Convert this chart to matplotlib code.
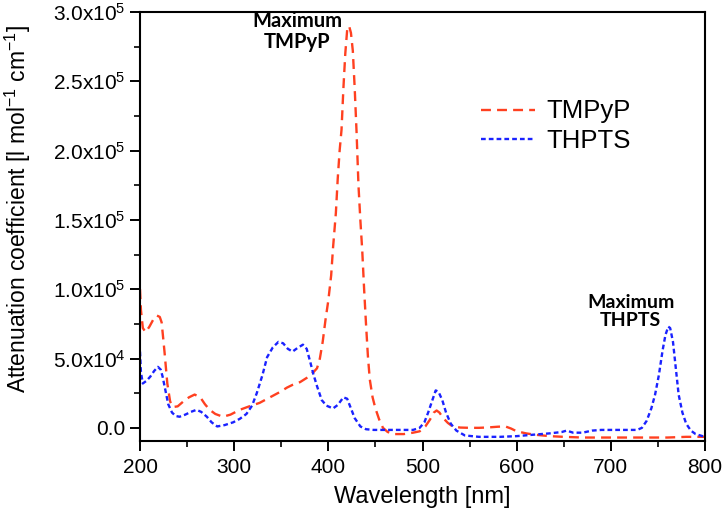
import matplotlib
matplotlib.use("Agg")
import matplotlib.pyplot as plt
from matplotlib.ticker import MultipleLocator, FixedLocator

# ---------------- data ----------------
tmpyp_wl = [200, 201, 203, 206, 210, 214, 218, 221, 223, 226, 229, 232, 235, 240, 246, 252, 258, 264,
            269, 274, 280, 288, 296, 306, 316, 327, 338, 349, 356, 362, 370, 377, 384, 388, 391, 394,
            397, 400, 403, 405, 408, 410, 412, 414, 416, 418, 420, 422, 424, 426, 428, 430, 432, 434,
            436, 438, 440, 442, 444, 447, 450, 454, 458, 463, 470, 480, 490, 497, 503, 508, 512, 515,
            518, 522, 527, 532, 540, 550, 560, 570, 580, 588, 594, 600, 610, 620, 635, 650, 670, 700,
            730, 760, 780, 790, 800]
tmpyp_eps = [100000, 85000, 72000, 69000, 73000, 78000, 81000, 80000, 76000, 55000, 32000, 19000,
             15000, 15500, 19000, 22000, 24000, 22000, 17000, 13000, 10000, 8000, 9500, 13000, 15500,
             18000, 22000, 26000, 29000, 31000, 33000, 36000, 40000, 43000, 50000, 62000, 78000,
             92000, 110000, 130000, 155000, 180000, 200000, 215000, 245000, 270000, 287000, 290000,
             285000, 272000, 245000, 213000, 175000, 150000, 128000, 100000, 75000, 52000, 35000,
             22000, 14000, 6000, 0, -3000, -4500, -4500, -3500, -2500, 1000, 6000, 11000, 12500,
             11000, 7000, 3500, 1000, 200, 0, 0, 300, 800, 1000, -500, -2500, -4000, -5000, -6000,
             -6500, -7000, -7000, -7000, -7000, -6500, -6500, -6500]

thpts_wl = [200, 201, 203, 207, 211, 215, 219, 222, 224, 227, 230, 234, 238, 242, 248, 254, 260, 265,
            271, 276, 282, 290, 299, 306, 313, 319, 324, 330, 335, 341, 347, 352, 357, 362, 367, 373,
            377, 381, 384, 388, 393, 398, 405, 410, 416, 420, 424, 428, 434, 440, 448, 460, 475, 490,
            497, 502, 506, 510, 514, 517, 521, 525, 530, 536, 545, 560, 582, 600, 617, 635, 648, 653,
            660, 670, 680, 690, 710, 728, 733, 738, 743, 747, 751, 755, 758, 761, 763, 766, 769, 772,
            776, 780, 785, 790, 800]
thpts_eps = [55000, 40000, 32000, 34000, 37000, 41000, 44000, 42000, 37000, 27000, 17000, 11000,
             8500, 8000, 9500, 11500, 13000, 11500, 8000, 4000, 1000, 2000, 4000, 6500, 10000, 16000,
             25000, 38000, 51000, 58000, 62000, 61000, 57000, 55000, 57500, 60000, 57000, 47000,
             39000, 30000, 20000, 16000, 14000, 16500, 22000, 21000, 14000, 7000, 1000, -1000, -1500,
             -1500, -1500, -1500, 0, 4000, 11000, 19000, 27000, 26000, 20000, 11000, 3000, -2000,
             -5500, -6500, -6500, -6000, -5000, -4000, -3000, -2000, -3500, -3500, -2000, -1500,
             -1500, -1500, 0, 5000, 14000, 24000, 38000, 56000, 67000, 73000, 72000, 62000, 43000,
             24000, 11000, 3000, -2000, -4500, -6500]

x_ticks = [200, 300, 400, 500, 600, 700, 800]
y_ticks = [0, 50000, 100000, 150000, 200000, 250000, 300000]
y_tick_labels = ["0.0", r"5.0x10$^{4}$", r"1.0x10$^{5}$", r"1.5x10$^{5}$",
                 r"2.0x10$^{5}$", r"2.5x10$^{5}$", r"3.0x10$^{5}$"]
series_names = ["TMPyP", "THPTS"]

# ---------------- figure ----------------
plt.rcParams['font.family'] = ['Liberation Sans', 'DejaVu Sans']
plt.rcParams['mathtext.default'] = 'regular'

fig = plt.figure(figsize=(7.24, 5.16), dpi=100)
ax = fig.add_axes([140/724, 1-441/516, 565/724, 429/516])

red = '#ff4020'
blue = '#1a22ff'
ax.plot(tmpyp_wl, tmpyp_eps, color=red, lw=1.7, dashes=(4.2, 2.6), label=series_names[0])
ax.plot(thpts_wl, thpts_eps, color=blue, lw=1.7, dashes=(2.0, 1.3), label=series_names[1])

ax.set_xlim(200, 800)
ax.set_ylim(-9500, 300000)
ax.xaxis.set_major_locator(FixedLocator(x_ticks))
ax.xaxis.set_minor_locator(MultipleLocator(50))
ax.yaxis.set_major_locator(FixedLocator(y_ticks))
ax.set_yticklabels(y_tick_labels)
ax.yaxis.set_minor_locator(MultipleLocator(25000))

ax.tick_params(which='major', direction='out', length=7, width=1.4, labelsize=15, colors='black')
ax.tick_params(which='minor', direction='out', length=4, width=1.2)
ax.tick_params(axis='x', pad=5)
for s in ax.spines.values():
    s.set_linewidth(1.5)

ax.set_xlabel("Wavelength [nm]", fontsize=17, labelpad=7)
ax.set_ylabel(r"Attenuation coefficient [l mol$^{-1}$ cm$^{-1}$]", fontsize=16.5)
ax.yaxis.set_label_coords(-0.19, 0.54)

leg = ax.legend(loc='upper left', bbox_to_anchor=(0.585, 0.82), frameon=False, fontsize=18.5,
                handlelength=2.1, handletextpad=0.45, labelspacing=0.2, borderaxespad=0)

ax.text(367, 286000, "Maximum\nTMPyP", ha='center', va='center', fontsize=14.5,
        fontweight='bold', family=['Lato', 'DejaVu Sans'], linespacing=1.1)
ax.text(721, 84000, "Maximum\nTHPTS", ha='center', va='center', fontsize=14,
        fontweight='bold', family=['Lato', 'DejaVu Sans'], linespacing=1.1)

fig.savefig("out.png", dpi=100)
